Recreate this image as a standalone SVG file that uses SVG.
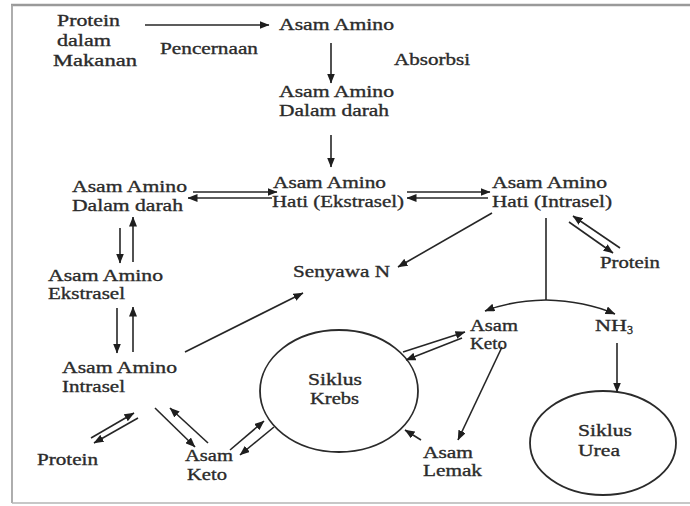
<svg xmlns="http://www.w3.org/2000/svg" width="690" height="506" viewBox="0 0 690 506">
<defs>
<style>
text{font-family:"Liberation Serif","Times New Roman",serif;font-size:17px;fill:#2b2b2b;stroke:#2b2b2b;stroke-width:0.35;}
.c line,.c path{stroke:#262626;stroke-width:1.6;fill:none;}
.a{marker-end:url(#ah);}
.sh{stroke:#2b2b2b;stroke-width:1.8;fill:none;}
</style>
<marker id="ah" markerUnits="userSpaceOnUse" markerWidth="10" markerHeight="8" refX="9.5" refY="4" orient="auto">
<path d="M0,0 L10,4 L0,8 z" fill="#1e1e1e"/>
</marker>
</defs>
<rect width="690" height="506" fill="#ffffff"/>
<!-- frame -->
<line x1="11" y1="5" x2="690" y2="5" stroke="#9a9a9a" stroke-width="2.5"/>
<line x1="12" y1="5" x2="12" y2="503" stroke="#a5a5a5" stroke-width="1.8"/>
<line x1="12" y1="503" x2="690" y2="503" stroke="#b5b5b5" stroke-width="1.5"/>

<g id="protein-makanan">
<text x="57" y="26" textLength="63" lengthAdjust="spacingAndGlyphs">Protein</text>
<text x="57" y="46" textLength="54" lengthAdjust="spacingAndGlyphs">dalam</text>
<text x="53" y="66" textLength="84" lengthAdjust="spacingAndGlyphs">Makanan</text>
</g>
<g id="label-pencernaan"><text x="160" y="54" textLength="98" lengthAdjust="spacingAndGlyphs">Pencernaan</text></g>
<g id="label-absorbsi"><text x="394" y="65" textLength="76" lengthAdjust="spacingAndGlyphs">Absorbsi</text></g>
<g id="asam-amino"><text x="279" y="30" textLength="115" lengthAdjust="spacingAndGlyphs">Asam Amino</text></g>
<g id="asam-amino-darah">
<text x="279" y="97" textLength="115" lengthAdjust="spacingAndGlyphs">Asam Amino</text>
<text x="279" y="116" textLength="110" lengthAdjust="spacingAndGlyphs">Dalam darah</text>
</g>
<g id="hati-ekstrasel">
<text x="273" y="188" textLength="113" lengthAdjust="spacingAndGlyphs">Asam Amino</text>
<text x="272" y="207" textLength="132" lengthAdjust="spacingAndGlyphs">Hati (Ekstrasel)</text>
</g>
<g id="darah-kiri">
<text x="72" y="192" textLength="115" lengthAdjust="spacingAndGlyphs">Asam Amino</text>
<text x="72" y="211" textLength="111" lengthAdjust="spacingAndGlyphs">Dalam darah</text>
</g>
<g id="hati-intrasel">
<text x="492" y="188" textLength="115" lengthAdjust="spacingAndGlyphs">Asam Amino</text>
<text x="492" y="207" textLength="120" lengthAdjust="spacingAndGlyphs">Hati (Intrasel)</text>
</g>
<g id="protein-kanan"><text x="600" y="268" textLength="60" lengthAdjust="spacingAndGlyphs">Protein</text></g>
<g id="senyawa-n"><text x="293" y="277" textLength="97" lengthAdjust="spacingAndGlyphs">Senyawa N</text></g>
<g id="ekstrasel">
<text x="48" y="281" textLength="115" lengthAdjust="spacingAndGlyphs">Asam Amino</text>
<text x="48" y="299" textLength="77" lengthAdjust="spacingAndGlyphs">Ekstrasel</text>
</g>
<g id="intrasel">
<text x="62" y="373" textLength="115" lengthAdjust="spacingAndGlyphs">Asam Amino</text>
<text x="62" y="392" textLength="63" lengthAdjust="spacingAndGlyphs">Intrasel</text>
</g>
<g id="protein-kiri"><text x="37" y="465" textLength="61" lengthAdjust="spacingAndGlyphs">Protein</text></g>
<g id="keto-bawah">
<text x="185" y="461" textLength="48" lengthAdjust="spacingAndGlyphs">Asam</text>
<text x="187" y="480" textLength="40" lengthAdjust="spacingAndGlyphs">Keto</text>
</g>
<g id="krebs">
<ellipse cx="339" cy="391" rx="79" ry="61" class="sh"/>
<text x="308" y="385" textLength="54" lengthAdjust="spacingAndGlyphs">Siklus</text>
<text x="310" y="404" textLength="49" lengthAdjust="spacingAndGlyphs">Krebs</text>
</g>
<g id="keto-kanan">
<text x="470" y="331" textLength="48" lengthAdjust="spacingAndGlyphs">Asam</text>
<text x="470" y="349" textLength="37" lengthAdjust="spacingAndGlyphs">Keto</text>
</g>
<g id="lemak">
<text x="423" y="458" textLength="50" lengthAdjust="spacingAndGlyphs">Asam</text>
<text x="423" y="476" textLength="59" lengthAdjust="spacingAndGlyphs">Lemak</text>
</g>
<g id="nh3">
<text x="595" y="331" textLength="32" lengthAdjust="spacingAndGlyphs">NH</text>
<text x="627" y="334" style="font-size:12px">3</text>
</g>
<g id="urea">
<ellipse cx="603" cy="443" rx="73" ry="52" class="sh"/>
<text x="578" y="436" textLength="54" lengthAdjust="spacingAndGlyphs">Siklus</text>
<text x="578" y="456" textLength="42" lengthAdjust="spacingAndGlyphs">Urea</text>
</g>

<g id="connectors" class="c">
<line class="a" x1="145" y1="25" x2="269" y2="25"/>
<line class="a" x1="331" y1="43" x2="331" y2="83"/>
<line class="a" x1="331" y1="135" x2="331" y2="167"/>
<line class="a" x1="193" y1="192" x2="277" y2="192"/>
<line class="a" x1="272" y1="198" x2="188" y2="198"/>
<line class="a" x1="407" y1="192" x2="490" y2="192"/>
<line class="a" x1="488" y1="198" x2="407" y2="198"/>
<line class="a" x1="492" y1="213" x2="398" y2="267"/>
<line x1="546" y1="218" x2="546" y2="300"/>
<path class="a" d="M546,300 Q510,301 485,311"/>
<path class="a" d="M546,300 Q585,301 615,314"/>
<line class="a" x1="620" y1="248" x2="573" y2="216"/>
<line class="a" x1="569" y1="222" x2="613" y2="253"/>
<line class="a" x1="120" y1="228" x2="120" y2="263"/>
<line class="a" x1="133" y1="262" x2="133" y2="217"/>
<line class="a" x1="117" y1="308" x2="117" y2="353"/>
<line class="a" x1="133" y1="352" x2="133" y2="307"/>
<line class="a" x1="185" y1="352" x2="303" y2="293"/>
<line class="a" x1="91" y1="438" x2="134" y2="413"/>
<line class="a" x1="138" y1="418" x2="94" y2="443"/>
<line class="a" x1="155" y1="408" x2="195" y2="447"/>
<line class="a" x1="208" y1="443" x2="170" y2="408"/>
<line class="a" x1="230" y1="450" x2="264" y2="421"/>
<line class="a" x1="274" y1="427" x2="240" y2="455"/>
<line class="a" x1="403" y1="352" x2="465" y2="332"/>
<line class="a" x1="462" y1="338" x2="406" y2="360"/>
<line class="a" x1="502" y1="347" x2="458" y2="440"/>
<line class="a" x1="421" y1="440" x2="405" y2="430"/>
<line class="a" x1="617" y1="343" x2="617" y2="392"/>
</g>
</svg>
